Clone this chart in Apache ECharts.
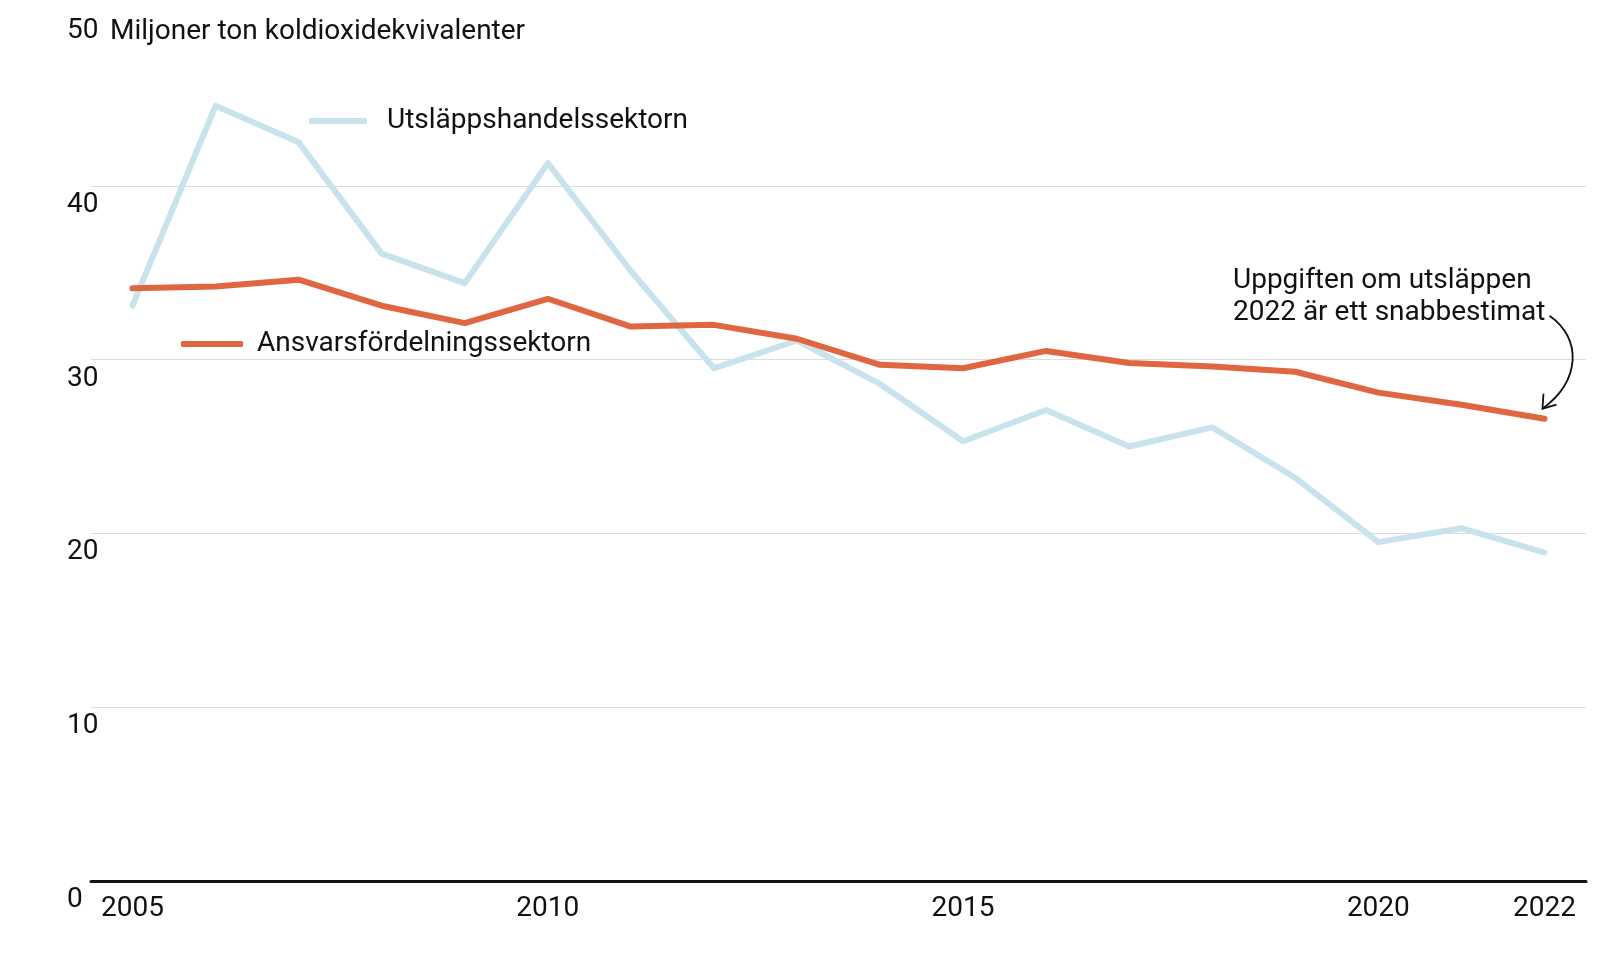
<!DOCTYPE html>
<html>
<head>
<meta charset="utf-8">
<script src="https://cdn.jsdelivr.net/npm/echarts@6/dist/echarts.min.js"></script>
<style>
html,body{margin:0;padding:0;background:#fff;}
#chart{width:1600px;height:970px;}
</style>
</head>
<body>
<div id="chart"></div>
<script>
const years = ['2005','2006','2007','2008','2009','2010','2011','2012','2013','2014','2015','2016','2017','2018','2019','2020','2021','2022'];
const shownYears = ['2005','2010','2015','2020','2022'];
const utslappshandel = [33.1,44.6,42.5,36.1,34.4,41.3,35.1,29.5,31.1,28.6,25.3,27.1,25.0,26.1,23.2,19.5,20.3,18.9];
const ansvarsfordelning = [34.1,34.2,34.6,33.1,32.1,33.5,31.9,32.0,31.2,29.7,29.5,30.5,29.8,29.6,29.3,28.1,27.4,26.6];
const yTicks = [0,10,20,30,40,50];
const FONT = 'Roboto';
const FS = 28;
const BLUE = '#c9e3ec';
const ORANGE = '#e06541';

const chart = echarts.init(document.getElementById('chart'), null, {renderer:'canvas'});
const option = {
  animation:false,
  backgroundColor:'#fff',
  textStyle:{fontFamily:FONT},
  grid:{left:91,right:14,top:12,bottom:89,containLabel:false},
  xAxis:{
    type:'category',
    data:years,
    boundaryGap:true,
    axisLine:{show:true,lineStyle:{color:'#111',width:3}},
    axisTick:{show:false},
    axisLabel:{
      interval:0,
      formatter:v=>shownYears.includes(v)?v:'',
      fontSize:FS,color:'#111',margin:14,fontFamily:FONT
    },
    splitLine:{show:false}
  },
  yAxis:{
    type:'value',min:0,max:50,interval:10,
    axisLine:{show:false},axisTick:{show:false},
    axisLabel:{
      formatter:v=>yTicks.includes(v)?String(v):'',
      align:'left',verticalAlign:'top',margin:24,padding:[5,0,0,0],
      fontSize:FS,color:'#111',fontFamily:FONT
    },
    splitLine:{show:true,lineStyle:{color:['#dcdcdc','#dcdcdc','#dcdcdc','#dcdcdc','#dcdcdc','rgba(0,0,0,0)'],width:1}}
  },
  legend:[
    {data:['Utsläppshandelssektorn'],left:304,top:102,itemWidth:58,itemHeight:6,icon:'roundRect',
     textStyle:{fontSize:FS,color:'#111',fontFamily:FONT,padding:[0,0,0,15]}},
    {data:['Ansvarsfördelningssektorn'],left:176,top:325,itemWidth:62,itemHeight:6,icon:'roundRect',
     textStyle:{fontSize:FS,color:'#111',fontFamily:FONT,padding:[0,0,0,9]}}
  ],
  series:[
    {name:'Utsläppshandelssektorn',type:'line',data:utslappshandel,symbol:'none',
     lineStyle:{color:BLUE,width:6,cap:'round',join:'round'},itemStyle:{color:BLUE},z:2},
    {name:'Ansvarsfördelningssektorn',type:'line',data:ansvarsfordelning,symbol:'none',
     lineStyle:{color:ORANGE,width:6,cap:'round',join:'round'},itemStyle:{color:ORANGE},z:3}
  ]
};
chart.setOption(option);

// annotation arrow anchored to the last Ansvarsfördelning point
const last = ansvarsfordelning.length-1;
const p = chart.convertToPixel({gridIndex:0},[last, ansvarsfordelning[last]]);
const tip = [p[0]-2, p[1]-10];
chart.setOption({graphic:[
  {type:'text',left:110,top:18,style:{text:'Miljoner ton koldioxidekvivalenter',font:FS+'px '+FONT,fill:'#111'}},
  {type:'text',left:1233,top:265,style:{text:'Uppgiften om utsläppen\n2022 är ett snabbestimat',font:FS+'px '+FONT,fill:'#111',lineHeight:32}},
  {type:'bezierCurve',shape:{x1:tip[0]+7,y1:tip[1]-93,cpx1:tip[0]+40,cpy1:tip[1]-70,cpx2:tip[0]+38,cpy2:tip[1]-28,x2:tip[0],y2:tip[1]},
   style:{stroke:'#111',lineWidth:1.8,fill:null}},
  {type:'polyline',shape:{points:[[tip[0]+1,tip[1]-15],[tip[0],tip[1]],[tip[0]+14,tip[1]-4]]},
   style:{stroke:'#111',lineWidth:1.8,fill:null}}
]});
</script>
</body>
</html>
